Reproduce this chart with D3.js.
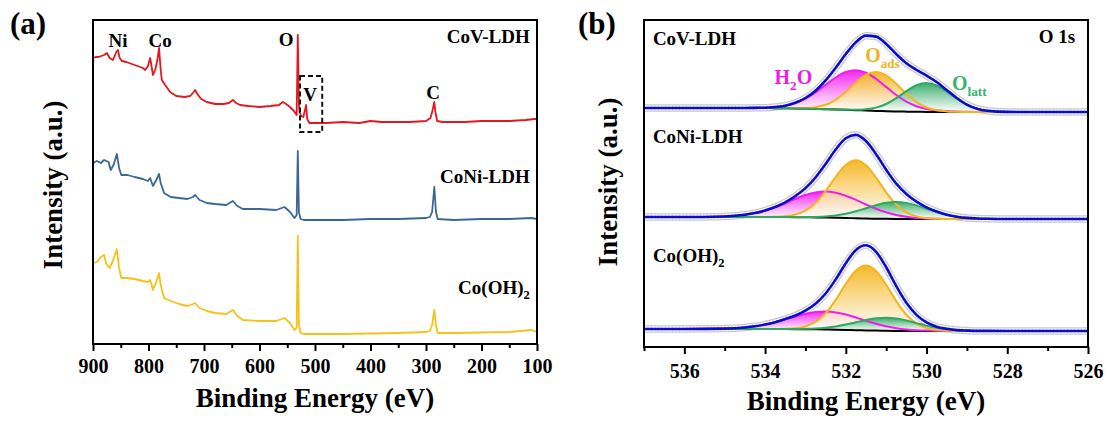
<!DOCTYPE html>
<html>
<head>
<meta charset="utf-8">
<script src="https://cdn.jsdelivr.net/npm/d3@7"></script>
<style>
  body { margin: 0; background: #fff; }
  text { font-family: "Liberation Serif", "Times New Roman", serif; font-weight: bold; }
</style>
</head>
<body>
<svg width="1109" height="427"></svg>
<script>
// ---------- panel (a): XPS survey ----------
const surveyNames = ['CoV-LDH', 'CoNi-LDH', 'Co(OH)2'];
const surveyColors = ['#e3171e', '#3b6797', '#f4c21a'];

const covSurveyBE = [900, 895, 890, 885, 880, 875, 870, 864, 858, 855, 852, 848, 840, 830, 820, 810, 806, 801, 797, 794, 792, 788, 784, 781, 778, 776, 770, 761, 750, 735, 725, 720, 716, 712, 705, 695, 680, 665, 655, 648, 642, 635, 620, 600, 580, 565, 558, 552, 545, 538, 533, 531, 529, 528, 525, 521, 518, 516, 514, 510, 480, 450, 420, 400, 380, 330, 300, 292, 288, 285, 283, 280, 270, 230, 200, 150, 120, 105, 100];
const covSurveyI = [286, 287, 287, 288, 289, 291, 286, 284, 292, 294, 286, 283, 282, 280, 278, 276, 274, 278, 286, 276, 269, 274, 284, 296, 274, 264, 259, 252, 248, 247, 248, 251, 254, 250, 245, 242, 240, 240, 241, 244, 241, 239, 238, 237, 238, 239, 242, 240, 237, 233, 229, 309, 240, 232, 228, 227, 234, 239, 225, 221, 221, 222, 221, 223, 222, 222, 223, 226, 234, 242, 232, 223, 222, 222, 223, 223, 224, 225, 225];

const coniSurveyBE = [900, 893, 886, 880, 872, 868, 863, 857, 853, 849, 838, 825, 810, 801, 797, 792, 786, 781, 778, 772, 760, 745, 730, 720, 716, 708, 695, 680, 660, 648, 640, 630, 600, 570, 560, 555, 545, 537, 533, 531, 529, 526, 520, 450, 400, 350, 300, 293, 289, 285, 282, 279, 250, 200, 150, 110, 100];
const coniSurveyI = [181, 183, 181, 184, 182, 174, 179, 190, 176, 169, 169, 167, 165, 163, 166, 158, 164, 170, 161, 151, 147, 146, 145, 147, 149, 144, 141, 140, 139, 143, 138, 135, 135, 134, 136, 137, 132, 126, 129, 193, 132, 125, 124, 124, 125, 125, 126, 127, 132, 157, 132, 125, 124, 125, 125, 126, 125];

const cohSurveyBE = [900, 893, 886, 880, 876, 870, 865, 857, 853, 849, 838, 825, 810, 801, 797, 792, 786, 781, 778, 772, 760, 745, 730, 720, 716, 708, 695, 680, 660, 648, 640, 630, 600, 570, 560, 555, 545, 537, 533, 531, 529, 526, 520, 450, 350, 300, 293, 289, 285, 282, 279, 250, 150, 110, 100];
const cohSurveyI = [81, 82, 87, 89, 80, 76, 82, 95, 76, 66, 66, 65, 63, 62, 64, 54, 62, 71, 59, 46, 43, 40, 38, 40, 41, 36, 33, 31, 30, 34, 28, 24, 23, 23, 25, 26, 21, 14, 16, 108, 19, 11, 10, 10, 11, 12, 13, 19, 34, 19, 11, 11, 12, 14, 12];

const surveyTicks = [900, 800, 700, 600, 500, 400, 300, 200, 100];
const surveyMinorTicks = [850, 750, 650, 550, 450, 350, 250, 150];

const elementLabels = ['Ni', 'Co', 'O', 'V', 'C'];
const elementBE = [855, 779, 552, 509, 287];
const elementI = [297, 297, 298, 243, 245];
const surveyNameBE = 113;
const surveyNameI = [301, 161, 50];
const vBoxBE = [527, 487];
const vBoxI = [268, 212];

// ---------- panel (b): O 1s high resolution ----------
const o1sNames = ['CoV-LDH', 'CoNi-LDH', 'Co(OH)2'];
const o1sBaseline = [235, 128, 16];
const beGrid = [537, 536, 535, 534.5, 534.25, 534, 533.75, 533.5, 533.25, 533, 532.75, 532.5, 532.25, 532, 531.75, 531.5, 531.25, 531, 530.75, 530.5, 530.25, 530, 529.75, 529.5, 529.25, 529, 528.75, 528.5, 528, 527, 526];

const covH2O = [0, 0, 0, 0, 0.2, 0.4, 1.1, 2.6, 5.4, 10.0, 16.4, 24.3, 32.0, 37.8, 40, 37.8, 32.0, 24.3, 16.4, 10.0, 5.6, 2.9, 1.6, 0.9, 0.5, 0.2, 0, 0, 0, 0, 0];
const covOads = [0, 0, 0, 0, 0, 0, 0, 0, 0.2, 0.6, 1.7, 4.4, 9.7, 17.9, 27.6, 35.8, 39, 35.8, 27.6, 17.9, 9.7, 4.4, 1.7, 0.6, 0.2, 0, 0, 0, 0, 0, 0];
const covOlatt = [0, 0, 0, 0, 0, 0, 0, 0, 0, 0, 0, 0, 0, 0.1, 0.4, 1.3, 3.3, 7.2, 13.3, 20.5, 26.6, 29, 26.6, 20.5, 13.3, 7.2, 3.3, 1.3, 0.1, 0, 0];
const covBg = [4, 4, 4, 4, 3.95, 3.9, 3.85, 3.75, 3.6, 3.4, 3.15, 2.85, 2.5, 2.15, 1.8, 1.45, 1.1, 0.8, 0.55, 0.35, 0.2, 0.1, 0.05, 0, 0, 0, 0, 0, 0, 0, 0];

const coniH2O = [0, 0, 0.55, 2.2, 3.9, 6.5, 9.9, 14.0, 18.4, 22.3, 25.0, 26, 25.0, 22.3, 18.4, 14.0, 9.9, 6.5, 3.9, 2.2, 1.1, 0.55, 0.24, 0.1, 0, 0, 0, 0, 0, 0, 0];
const coniOads = [0, 0, 0, 0, 0, 0, 0.2, 0.8, 2.6, 6.6, 14.4, 26.5, 41.0, 53.2, 58, 53.2, 41.0, 26.5, 14.4, 6.6, 2.6, 0.8, 0.2, 0, 0, 0, 0, 0, 0, 0, 0];
const coniOlatt = [0, 0, 0, 0, 0, 0, 0, 0, 0.1, 0.2, 0.5, 1.1, 2.3, 4.2, 7.0, 10.3, 13.6, 16.1, 17, 16.1, 13.6, 10.3, 7.0, 4.2, 2.3, 1.1, 0.5, 0.2, 0, 0, 0];
const coniBg = [2, 2, 2, 2, 2, 2, 1.95, 1.9, 1.85, 1.75, 1.6, 1.45, 1.25, 1.0, 0.75, 0.5, 0.3, 0.17, 0.08, 0.03, 0, 0, 0, 0, 0, 0, 0, 0, 0, 0, 0];

const cohH2O = [0, 0, 0.4, 1.5, 2.7, 4.5, 6.9, 9.7, 12.7, 15.4, 17.3, 18, 17.3, 15.4, 12.7, 9.7, 6.9, 4.5, 2.7, 1.5, 0.8, 0.4, 0.2, 0.1, 0, 0, 0, 0, 0, 0, 0];
const cohOads = [0, 0, 0, 0, 0, 0, 0, 0.3, 0.9, 2.9, 7.4, 16.2, 29.8, 46.0, 59.6, 65, 59.6, 46.0, 29.8, 16.2, 7.4, 2.9, 0.9, 0.3, 0, 0, 0, 0, 0, 0, 0];
const cohOlatt = [0, 0, 0, 0, 0, 0, 0, 0.1, 0.1, 0.4, 0.9, 1.8, 3.2, 5.3, 7.9, 10.4, 12.3, 13, 12.3, 10.4, 7.9, 5.3, 3.2, 1.8, 0.9, 0.4, 0.1, 0.1, 0, 0, 0];
const cohBg = [2, 2, 2, 2, 2, 2, 1.95, 1.9, 1.85, 1.75, 1.65, 1.5, 1.3, 1.1, 0.85, 0.6, 0.4, 0.22, 0.1, 0.04, 0, 0, 0, 0, 0, 0, 0, 0, 0, 0, 0];

const compNames = ['H2O', 'Oads', 'Olatt'];
const compColors = ['#f21cf0', '#f4b51c', '#2fa862'];
const labelColors = ['#e81ee3', '#f0b418', '#34b56c'];

const o1sTicks = [536, 534, 532, 530, 528, 526];
const o1sMinorTicks = [537, 535, 533, 531, 529, 527];

const compLabelBE = [533.3, 531.52, 529.37];
const compLabelI = [263, 285, 257];
const o1sNameBE = 536.78;
const o1sNameI = [302, 204, 85];

// ---------- drawing ----------
const svg = d3.select('svg');
svg.append('rect').attr('width', 1109).attr('height', 427).attr('fill', '#fff');

const xA = d3.scaleLinear().domain([900, 100]).range([93, 537]);
const yA = d3.scaleLinear().domain([0, 324]).range([344, 20]);
const xB = d3.scaleLinear().domain([537, 526]).range([644, 1088]);
const yB = d3.scaleLinear().domain([0, 330]).range([347, 17]);

const subLabel = (sel, main, sub, after, size) => {
    sel.append('tspan').text(main);
    sel.append('tspan').attr('dy', size * 0.28).attr('font-size', size * 0.66).text(sub);
    if (after) sel.append('tspan').attr('dy', -size * 0.28).text(after);
};

const drawAxis = (xs, ticks, minor, y0, pad) => {
    const g = svg.append('g').attr('transform', 'translate(0,' + y0 + ')');
    g.call(d3.axisBottom(xs).tickValues(ticks).tickSize(7).tickPadding(pad));
    g.append('g').call(d3.axisBottom(xs).tickValues(minor).tickSize(4).tickFormat(''))
        .select('.domain').remove();
    g.select('.domain').remove();
    g.selectAll('line').attr('stroke', '#000').attr('stroke-width', 2);
    g.selectAll('text').attr('font-size', 20).attr('fill', '#000')
        .attr('font-family', '"Liberation Serif", "Times New Roman", serif').attr('font-weight', 'bold');
};

// panel (a) spectra
const surveys = [
    [covSurveyBE, covSurveyI],
    [coniSurveyBE, coniSurveyI],
    [cohSurveyBE, cohSurveyI]
];
const lineA = d3.line().x(d => xA(d[0])).y(d => yA(d[1]));
surveys.forEach((s, i) => {
    const pts = s[0].map((e, j) => [e, s[1][j]]);
    svg.append('path').datum(pts).attr('d', lineA)
        .attr('fill', 'none').attr('stroke', surveyColors[i]).attr('stroke-width', 1.8)
        .attr('stroke-linejoin', 'round');
});

svg.append('rect')
    .attr('x', xA(vBoxBE[0])).attr('y', yA(vBoxI[0]))
    .attr('width', xA(vBoxBE[1]) - xA(vBoxBE[0])).attr('height', yA(vBoxI[1]) - yA(vBoxI[0]))
    .attr('fill', 'none').attr('stroke', '#111').attr('stroke-width', 2).attr('stroke-dasharray', '5,3');

elementLabels.forEach((t, i) => {
    svg.append('text').attr('x', xA(elementBE[i])).attr('y', yA(elementI[i]))
        .attr('text-anchor', 'middle').attr('font-size', 19).text(t);
});

surveyNames.forEach((t, i) => {
    const tx = svg.append('text').attr('x', xA(surveyNameBE)).attr('y', yA(surveyNameI[i]))
        .attr('text-anchor', 'end').attr('font-size', 19);
    if (t === 'Co(OH)2') subLabel(tx, 'Co(OH)', '2', '', 19);
    else tx.text(t);
});

svg.append('rect').attr('x', 93).attr('y', 20).attr('width', 444).attr('height', 324)
    .attr('fill', 'none').attr('stroke', '#000').attr('stroke-width', 2);
drawAxis(xA, surveyTicks, surveyMinorTicks, 344, 8);

svg.append('text').attr('x', xA(500)).attr('y', 407).attr('text-anchor', 'middle')
    .attr('font-size', 27).text('Binding Energy (eV)');
svg.append('text').attr('transform', 'translate(62,185) rotate(-90)').attr('text-anchor', 'middle')
    .attr('font-size', 27).text('Intensity (a.u.)');
svg.append('text').attr('x', 10).attr('y', 34).attr('font-size', 31).text('(a)');

// panel (b) fitted O 1s
const defs = svg.append('defs');
compColors.forEach((c, i) => {
    const gr = defs.append('linearGradient').attr('id', 'grad' + i)
        .attr('x1', 0).attr('y1', 0).attr('x2', 0).attr('y2', 1);
    gr.append('stop').attr('offset', 0).attr('stop-color', c).attr('stop-opacity', 0.95);
    gr.append('stop').attr('offset', 1).attr('stop-color', '#fff').attr('stop-opacity', 0.9);
});

const fits = [
    [covH2O, covOads, covOlatt, covBg],
    [coniH2O, coniOads, coniOlatt, coniBg],
    [cohH2O, cohOads, cohOlatt, cohBg]
];

const curveB = d3.curveMonotoneX;
fits.forEach((f, s) => {
    const base = o1sBaseline[s];
    const bg = f[3];
    const env = beGrid.map((e, j) => [e, base + bg[j] + f[0][j] + f[1][j] + f[2][j]]);
    const lineB = d3.line().x(d => xB(d[0])).y(d => yB(d[1])).curve(curveB);

    // experimental points band
    const g = svg.append('g');
    g.append('path').datum(env).attr('d', lineB).attr('fill', 'none')
        .attr('stroke', '#c9c9c9').attr('stroke-width', 7.5);
    g.append('path').datum(env).attr('d', lineB).attr('fill', 'none')
        .attr('stroke', '#fff').attr('stroke-width', 5);
    g.append('path').datum(env).attr('d', lineB).attr('fill', 'none')
        .attr('stroke', '#d6d6d6').attr('stroke-width', 5).attr('stroke-dasharray', '1,2.5');

    // component fills
    [0, 1, 2].forEach(c => {
        const area = d3.area().x((d, j) => xB(beGrid[j]))
            .y0((d, j) => yB(base + bg[j])).y1((d, j) => yB(base + bg[j] + d)).curve(curveB);
        svg.append('path').datum(f[c]).attr('d', area).attr('fill', 'url(#grad' + c + ')');
    });

    // background line
    svg.append('path').datum(beGrid.map((e, j) => [e, base + bg[j]])).attr('d', lineB)
        .attr('fill', 'none').attr('stroke', '#000').attr('stroke-width', 2);

    // component lines
    [0, 1, 2].forEach(c => {
        svg.append('path').datum(beGrid.map((e, j) => [e, base + bg[j] + f[c][j]])).attr('d', lineB)
            .attr('fill', 'none').attr('stroke', compColors[c]).attr('stroke-width', 2);
    });

    // envelope
    svg.append('path').datum(env).attr('d', lineB).attr('fill', 'none')
        .attr('stroke', '#0b0bd0').attr('stroke-width', 2.6);

    const tx = svg.append('text').attr('x', xB(o1sNameBE)).attr('y', yB(o1sNameI[s])).attr('font-size', 19);
    if (o1sNames[s] === 'Co(OH)2') subLabel(tx, 'Co(OH)', '2', '', 19);
    else tx.text(o1sNames[s]);
});

// component labels
const h2oT = svg.append('text').attr('x', xB(compLabelBE[0])).attr('y', yB(compLabelI[0]))
    .attr('text-anchor', 'middle').attr('font-size', 20).attr('fill', labelColors[0]);
subLabel(h2oT, 'H', '2', 'O', 20);
const oadsT = svg.append('text').attr('x', xB(compLabelBE[1])).attr('y', yB(compLabelI[1]))
    .attr('font-size', 20).attr('fill', labelColors[1]);
subLabel(oadsT, 'O', 'ads', '', 20);
const olattT = svg.append('text').attr('x', xB(compLabelBE[2])).attr('y', yB(compLabelI[2]))
    .attr('font-size', 20).attr('fill', labelColors[2]);
subLabel(olattT, 'O', 'latt', '', 20);

svg.append('text').attr('x', xB(526.32)).attr('y', yB(304)).attr('text-anchor', 'end')
    .attr('font-size', 19).text('O 1s');

svg.append('rect').attr('x', 644).attr('y', 20).attr('width', 444).attr('height', 327)
    .attr('fill', 'none').attr('stroke', '#000').attr('stroke-width', 2);
drawAxis(xB, o1sTicks, o1sMinorTicks, 347, 10);

svg.append('text').attr('x', xB(531.5)).attr('y', 410).attr('text-anchor', 'middle')
    .attr('font-size', 27).text('Binding Energy (eV)');
svg.append('text').attr('transform', 'translate(617,182) rotate(-90)').attr('text-anchor', 'middle')
    .attr('font-size', 27).text('Intensity (a.u.)');
svg.append('text').attr('x', 578).attr('y', 34).attr('font-size', 31).text('(b)');
</script>
</body>
</html>
